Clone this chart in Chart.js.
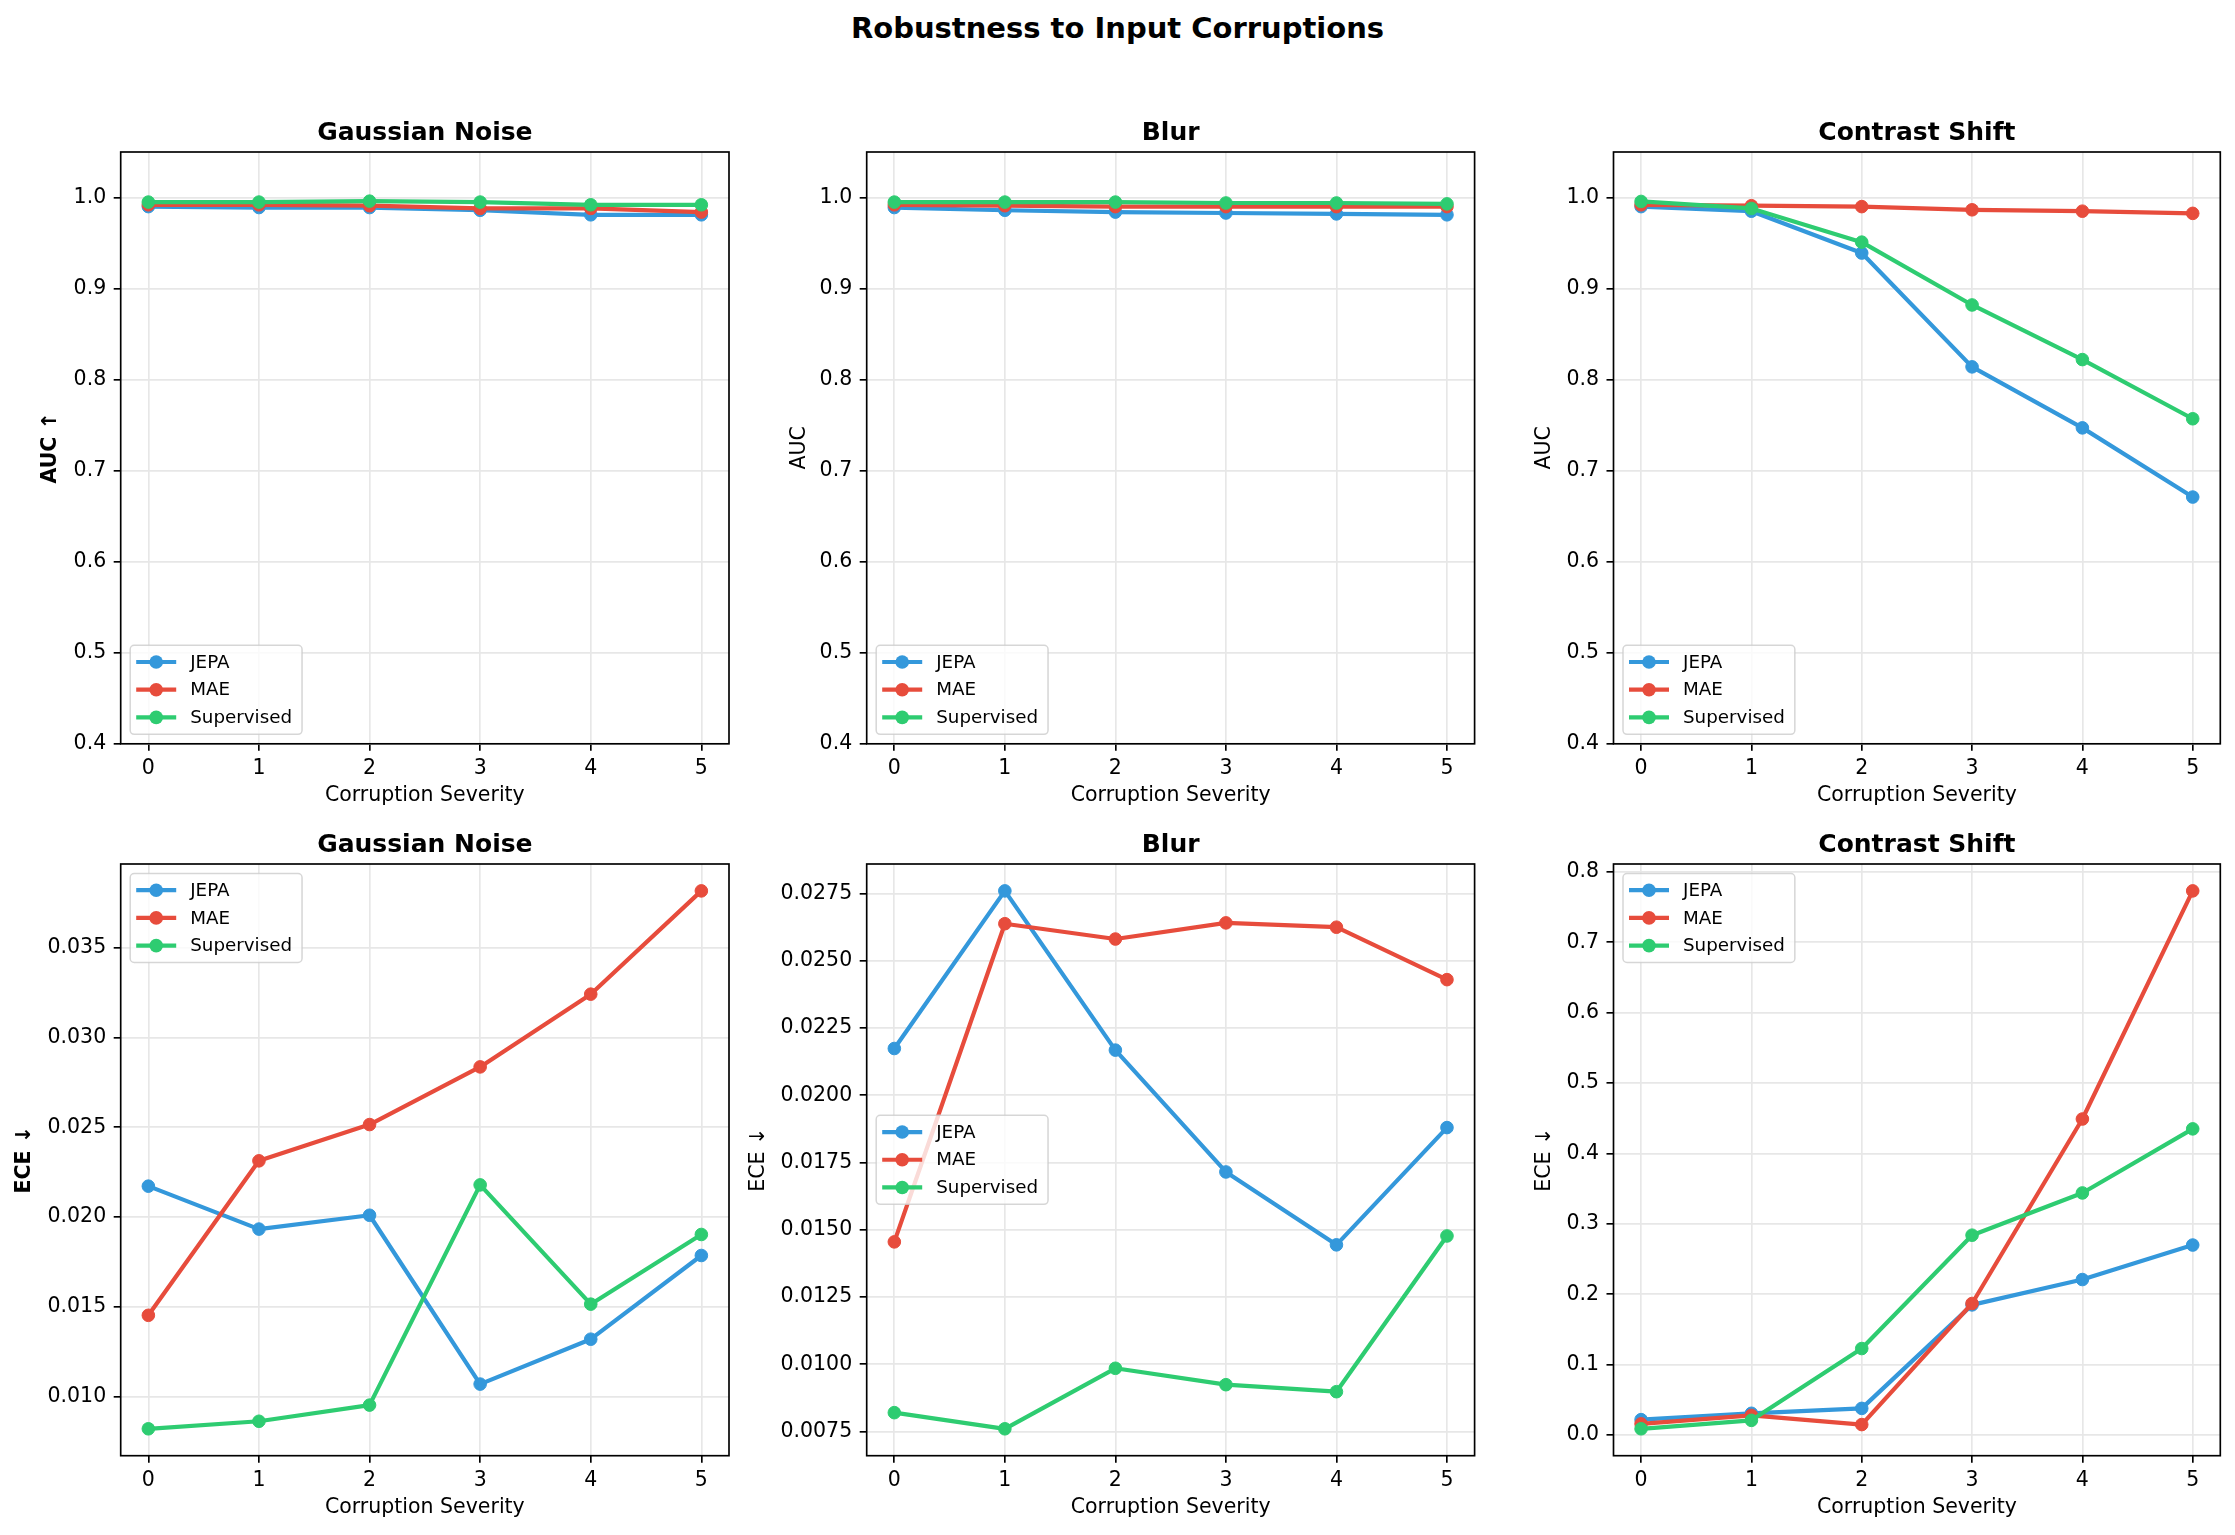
<!DOCTYPE html>
<html>
<head>
<meta charset="utf-8">
<script src="https://cdn.jsdelivr.net/npm/chart.js@4.4.0/dist/chart.umd.min.js"></script>
<style>
html, body { margin:0; padding:0; background:#ffffff; width:2235px; height:1535px; overflow:hidden; }
#sup { position:absolute; left:0; top:10px; width:2235px; text-align:center; font:bold 29px 'DejaVu Sans', sans-serif; line-height:36px; color:#000; }
canvas { position:absolute; }
</style>
</head>
<body>
<div id="sup">Robustness to Input Corruptions</div>
<canvas id="c0"></canvas><canvas id="c1"></canvas><canvas id="c2"></canvas>
<canvas id="c3"></canvas><canvas id="c4"></canvas><canvas id="c5"></canvas>
<script>
// ---------------- DATA ----------------
const severity = [0, 1, 2, 3, 4, 5];
const xTickLabels = ['0', '1', '2', '3', '4', '5'];
const seriesNames = ['JEPA', 'MAE', 'Supervised'];

// AUC (top row)
const aucGaussianJEPA = [0.990, 0.989, 0.989, 0.986, 0.981, 0.981];
const aucGaussianMAE  = [0.992, 0.992, 0.991, 0.988, 0.988, 0.984];
const aucGaussianSup  = [0.995, 0.995, 0.996, 0.995, 0.992, 0.992];

const aucBlurJEPA = [0.989, 0.986, 0.984, 0.983, 0.982, 0.981];
const aucBlurMAE  = [0.992, 0.991, 0.990, 0.990, 0.990, 0.990];
const aucBlurSup  = [0.995, 0.995, 0.995, 0.994, 0.994, 0.993];

const aucContrastJEPA = [0.990, 0.985, 0.939, 0.814, 0.747, 0.671];
const aucContrastMAE  = [0.992, 0.991, 0.990, 0.9865, 0.985, 0.9826];
const aucContrastSup  = [0.9957, 0.988, 0.951, 0.882, 0.822, 0.757];

// ECE (bottom row)
const eceGaussianJEPA = [0.02172, 0.01933, 0.0201, 0.0107, 0.0132, 0.01786];
const eceGaussianMAE  = [0.01453, 0.02313, 0.02515, 0.02836, 0.03241, 0.03816];
const eceGaussianSup  = [0.00821, 0.00863, 0.00953, 0.02179, 0.01515, 0.01903];

const eceBlurJEPA = [0.02174, 0.0276, 0.02168, 0.01715, 0.01444, 0.0188];
const eceBlurMAE  = [0.01455, 0.02638, 0.02581, 0.02641, 0.02625, 0.0243];
const eceBlurSup  = [0.0082, 0.0076, 0.00985, 0.00924, 0.00898, 0.01477];

const eceContrastJEPA = [0.022, 0.031, 0.038, 0.185, 0.221, 0.270];
const eceContrastMAE  = [0.016, 0.028, 0.015, 0.187, 0.449, 0.773];
const eceContrastSup  = [0.009, 0.021, 0.123, 0.284, 0.344, 0.435];

// tick values / labels
const aucTicks = [0.4, 0.5, 0.6, 0.7, 0.8, 0.9, 1.0];
const aucTickLabels = ['0.4', '0.5', '0.6', '0.7', '0.8', '0.9', '1.0'];
const aucLimits = [0.4, 1.05];
const eceGaussianTicks = [0.010, 0.015, 0.020, 0.025, 0.030, 0.035];
const eceGaussianTickLabels = ['0.010', '0.015', '0.020', '0.025', '0.030', '0.035'];
const eceBlurTicks = [0.0075, 0.0100, 0.0125, 0.0150, 0.0175, 0.0200, 0.0225, 0.0250, 0.0275];
const eceBlurTickLabels = ['0.0075', '0.0100', '0.0125', '0.0150', '0.0175', '0.0200', '0.0225', '0.0250', '0.0275'];
const eceContrastTicks = [0.0, 0.1, 0.2, 0.3, 0.4, 0.5, 0.6, 0.7, 0.8];
const eceContrastTickLabels = ['0.0', '0.1', '0.2', '0.3', '0.4', '0.5', '0.6', '0.7', '0.8'];

// ---------------- STYLE / LAYOUT ----------------
const colors = ['#3498db', '#e74c3c', '#2ecc71'];
const FAMILY = "'DejaVu Sans', sans-serif";
const colLeft = [120.7, 866.7, 1613.5];
const colWidth = [608.3, 607.9, 606.8];
const canvasLeft = [0, 740, 1495];
const rowTop = [152, 864.3];
const rowHeight = [591.8, 591.7];
const yTitleCenter = [[51, 800, 1545], [25, 759, 1545]];
const xTitleCenterBelow = [51.6, 52.1]; // distance from area bottom to x-title centre
const TOP_SPACE = 46, XAXIS_H = 70;

function autoRange(arrs) {
  const all = [].concat(...arrs);
  const mn = Math.min(...all), mx = Math.max(...all);
  const pad = (mx - mn) * 0.05;
  return [mn - pad, mx + pad];
}

const panels = [
  { title: 'Gaussian Noise', yLabel: 'AUC ↑', bold: true, series: [aucGaussianJEPA, aucGaussianMAE, aucGaussianSup], ticks: aucTicks, labels: aucTickLabels, range: aucLimits, legend: 'lower' },
  { title: 'Blur', yLabel: 'AUC', bold: false, series: [aucBlurJEPA, aucBlurMAE, aucBlurSup], ticks: aucTicks, labels: aucTickLabels, range: aucLimits, legend: 'lower' },
  { title: 'Contrast Shift', yLabel: 'AUC', bold: false, series: [aucContrastJEPA, aucContrastMAE, aucContrastSup], ticks: aucTicks, labels: aucTickLabels, range: aucLimits, legend: 'lower' },
  { title: 'Gaussian Noise', yLabel: 'ECE ↓', bold: true, series: [eceGaussianJEPA, eceGaussianMAE, eceGaussianSup], ticks: eceGaussianTicks, labels: eceGaussianTickLabels, range: null, legend: 'upper' },
  { title: 'Blur', yLabel: 'ECE ↓', bold: false, series: [eceBlurJEPA, eceBlurMAE, eceBlurSup], ticks: eceBlurTicks, labels: eceBlurTickLabels, range: null, legend: 'center' },
  { title: 'Contrast Shift', yLabel: 'ECE ↓', bold: false, series: [eceContrastJEPA, eceContrastMAE, eceContrastSup], ticks: eceContrastTicks, labels: eceContrastTickLabels, range: null, legend: 'upper' }
];

const decoPlugin = {
  id: 'deco',
  afterDatasetsDraw(chart, args, opts) {
    const { ctx, chartArea: a } = chart;
    ctx.save();
    // spines
    ctx.strokeStyle = '#000';
    ctx.lineWidth = 1.67;
    ctx.strokeRect(a.left, a.top, a.right - a.left, a.bottom - a.top);
    // subplot title
    ctx.fillStyle = '#000';
    ctx.font = 'bold 25px ' + FAMILY;
    ctx.textAlign = 'center';
    ctx.textBaseline = 'alphabetic';
    ctx.fillText(opts.title, (a.left + a.right) / 2, a.top - 12.5);
    // legend
    const fs = 18.3;
    ctx.font = fs + 'px ' + FAMILY;
    const ds = chart.data.datasets;
    let tw = 0;
    ds.forEach(d => { tw = Math.max(tw, ctx.measureText(d.label).width); });
    const bw = 60 + tw + 10, bh = 89;
    const bx = a.left + 9.5;
    let by;
    if (opts.legend === 'lower') by = a.bottom - 9.5 - bh;
    else if (opts.legend === 'upper') by = a.top + 9.5;
    else by = (a.top + a.bottom) / 2 - bh / 2;
    ctx.beginPath();
    if (ctx.roundRect) ctx.roundRect(bx, by, bw, bh, 4); else ctx.rect(bx, by, bw, bh);
    ctx.fillStyle = 'rgba(255,255,255,0.8)';
    ctx.fill();
    ctx.strokeStyle = 'rgba(204,204,204,0.8)';
    ctx.lineWidth = 1.5;
    ctx.stroke();
    ds.forEach((d, i) => {
      const cy = by + 16.7 + i * 27.7;
      ctx.strokeStyle = d.borderColor;
      ctx.lineWidth = 4.2;
      ctx.beginPath();
      ctx.moveTo(bx + 6, cy);
      ctx.lineTo(bx + 46, cy);
      ctx.stroke();
      ctx.fillStyle = d.borderColor;
      ctx.beginPath();
      ctx.arc(bx + 26, cy, 6.8, 0, Math.PI * 2);
      ctx.fill();
      ctx.fillStyle = '#000';
      ctx.textAlign = 'left';
      ctx.textBaseline = 'middle';
      ctx.fillText(d.label, bx + 60, cy + 1);
    });
    ctx.restore();
  }
};

panels.forEach((p, idx) => {
  const row = Math.floor(idx / 3), col = idx % 3;
  const W = colLeft[col] - canvasLeft[col];
  const areaW = colWidth[col], areaH = rowHeight[row];
  const cw = Math.ceil(W + areaW + 12);
  const padRight = cw - W - areaW;
  const ctop = rowTop[row] - TOP_SPACE;
  const ch = Math.ceil(TOP_SPACE + areaH + XAXIS_H);
  const padBottom = ch - TOP_SPACE - areaH - XAXIS_H;
  const yTitlePad = yTitleCenter[row][col] - canvasLeft[col] - 20.5 * 1.2 / 2;
  const xTitlePad = XAXIS_H - xTitleCenterBelow[row] - 20.5 * 1.2 / 2;

  const cv = document.getElementById('c' + idx);
  cv.width = cw; cv.height = ch;
  cv.style.left = canvasLeft[col] + 'px';
  cv.style.top = ctop + 'px';
  cv.style.width = cw + 'px';
  cv.style.height = ch + 'px';

  const range = p.range || autoRange(p.series);
  const tickFont = { family: FAMILY, size: 20.5 };

  new Chart(cv, {
    type: 'line',
    data: {
      datasets: p.series.map((vals, s) => ({
        label: seriesNames[s],
        data: vals.map((v, k) => ({ x: severity[k], y: v })),
        borderColor: colors[s],
        backgroundColor: colors[s],
        pointBackgroundColor: colors[s],
        pointBorderColor: colors[s],
        pointRadius: 6.3,
        pointBorderWidth: 1,
        borderWidth: 4.2,
        borderJoinStyle: 'round',
        tension: 0,
        fill: false,
        order: 3 - s
      }))
    },
    options: {
      responsive: false,
      animation: false,
      devicePixelRatio: 1,
      events: [],
      layout: { padding: { left: 0, right: padRight, top: TOP_SPACE, bottom: padBottom } },
      plugins: {
        legend: { display: false },
        tooltip: { enabled: false },
        title: { display: false },
        deco: { title: p.title, legend: p.legend }
      },
      scales: {
        x: {
          type: 'linear',
          min: -0.25, max: 5.25,
          afterBuildTicks: s => { s.ticks = severity.map(v => ({ value: v })); },
          afterFit: s => { s.height = XAXIS_H; },
          ticks: { callback: (v, i) => xTickLabels[i], font: tickFont, color: '#000', padding: 5.7, maxRotation: 0, autoSkip: false },
          grid: { color: '#e7e7e7', lineWidth: 1.67, drawTicks: true, tickLength: 7, tickColor: '#000', tickWidth: 1.67 },
          border: { display: false },
          title: { display: true, text: 'Corruption Severity', font: { family: FAMILY, size: 20.5 }, color: '#000', padding: { top: 0, bottom: xTitlePad } }
        },
        y: {
          type: 'linear',
          min: range[0], max: range[1],
          afterBuildTicks: s => { s.ticks = p.ticks.map(v => ({ value: v })); },
          afterFit: s => { s.width = W; },
          ticks: { callback: (v, i) => p.labels[i], font: tickFont, color: '#000', padding: 7.5, autoSkip: false },
          grid: { color: '#e7e7e7', lineWidth: 1.67, drawTicks: true, tickLength: 7, tickColor: '#000', tickWidth: 1.67 },
          border: { display: false },
          title: { display: true, text: p.yLabel, font: { family: FAMILY, size: 20.5, weight: p.bold ? 'bold' : 'normal' }, color: '#000', padding: { top: yTitlePad, bottom: 0 } }
        }
      }
    },
    plugins: [decoPlugin]
  });
});
</script>
</body>
</html>
